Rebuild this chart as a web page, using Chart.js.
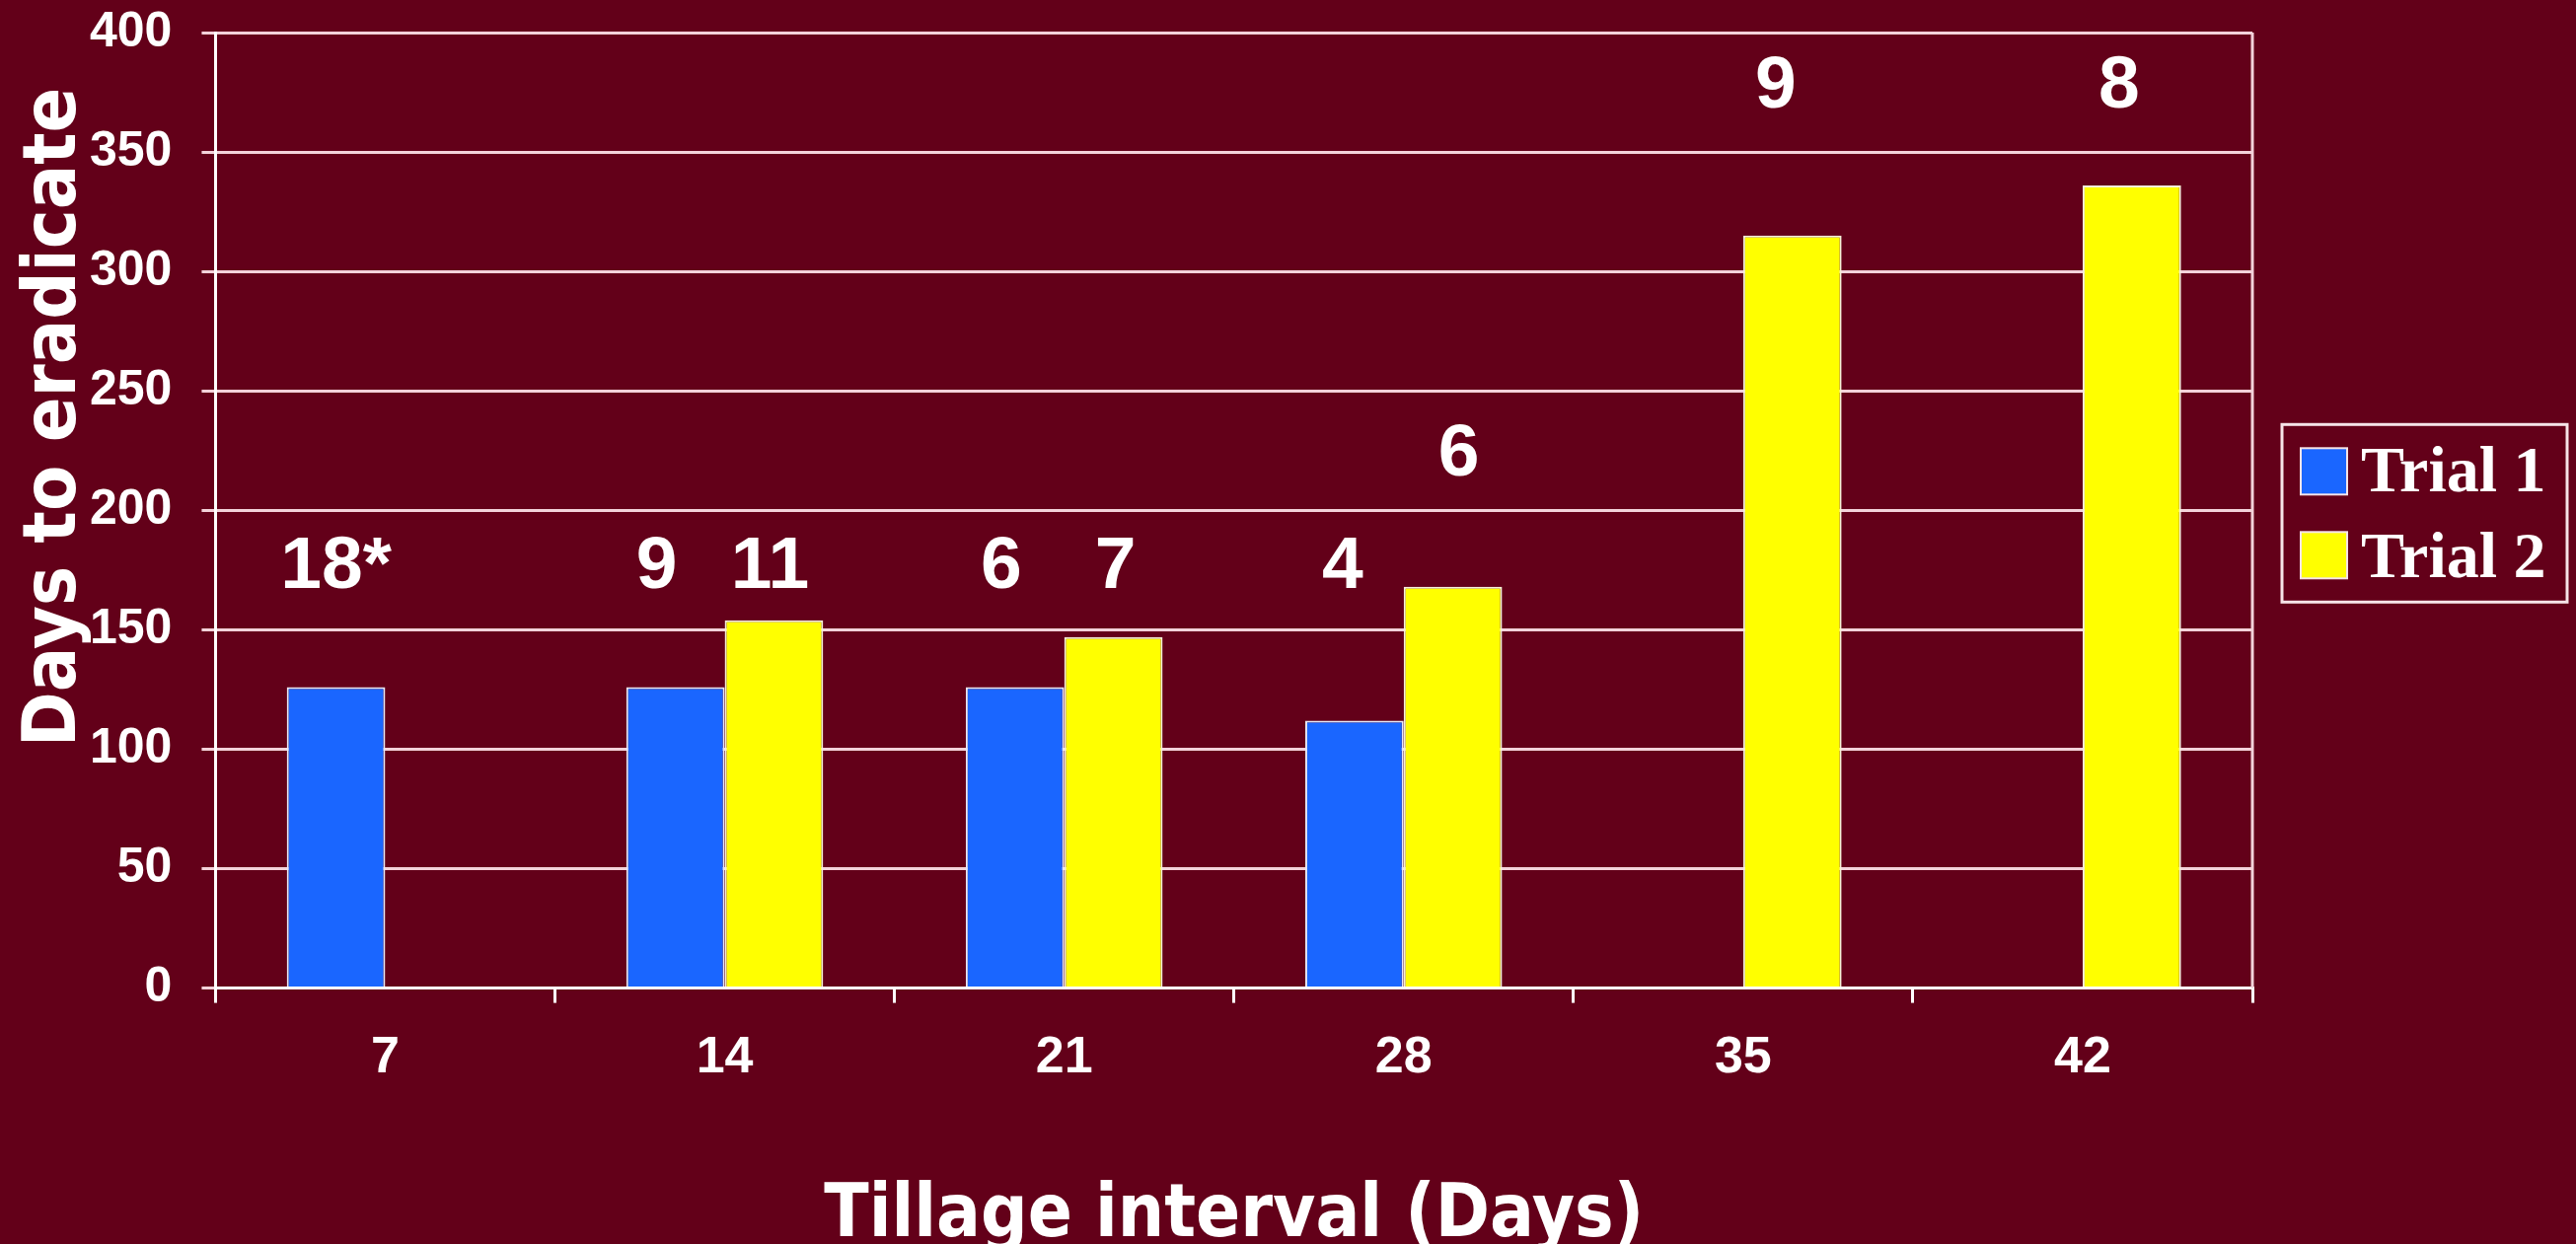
<!DOCTYPE html>
<html>
<head>
<meta charset="utf-8">
<script src="https://cdn.jsdelivr.net/npm/chart.js@4.4.1/dist/chart.umd.min.js"></script>
<style>
  html, body { margin: 0; padding: 0; background: #630019; }
  canvas { display: block; }
</style>
</head>
<body>
<canvas id="eradicate-chart" width="2611" height="1261"></canvas>
<script>
// tillage interval categories and days-to-eradicate per trial
const intervals = ['7', '14', '21', '28', '35', '42'];
const trial1Days = [126, 126, 126, 112, null, null];
const trial2Days = [null, 154, 147, 168, 315, 336];
// numbers written above the bars
const trial1Counts = ['18*', '9', '6', '4', null, null];
const trial2Counts = [null, '11', '7', '6', '9', '8'];

const bg = '#630019';
const gridColor = '#f3d2da';

const backdrop = {
  id: 'backdrop',
  beforeDraw(chart) {
    const ctx = chart.ctx;
    ctx.save();
    ctx.fillStyle = bg;
    ctx.fillRect(0, 0, chart.width, chart.height);
    ctx.restore();
  }
};

const countLabels = {
  id: 'countLabels',
  afterDatasetsDraw(chart, args, opts) {
    const ctx = chart.ctx, y = chart.scales.y;
    ctx.save();
    ctx.font = opts.font;
    ctx.fillStyle = opts.color;
    ctx.textAlign = 'center';
    ctx.textBaseline = 'middle';
    opts.texts.forEach((row, d) => {
      const meta = chart.getDatasetMeta(d);
      row.forEach((t, i) => {
        if (t == null) return;
        const bar = meta.data[i];
        ctx.fillText(t, bar.x + opts.dx[d][i], y.getPixelForValue(opts.levels[d][i]));
      });
    });
    ctx.restore();
  }
};

// right border, rotated y title and the boxed legend
const frame = {
  id: 'frame',
  afterDraw(chart, args, opts) {
    const ctx = chart.ctx, a = chart.chartArea;
    ctx.save();
    ctx.strokeStyle = gridColor;
    ctx.lineWidth = 3;
    ctx.beginPath();
    ctx.moveTo(a.right, a.top);
    ctx.lineTo(a.right, a.bottom);
    ctx.stroke();

    ctx.save();
    ctx.translate(a.left - 142, a.top + 390);
    ctx.rotate(-Math.PI / 2);
    ctx.font = opts.titleFont;
    ctx.fillStyle = '#ffffff';
    ctx.textAlign = 'center';
    ctx.textBaseline = 'alphabetic';
    ctx.fillText(opts.yTitle, 0, 0);
    ctx.restore();

    const left = a.right + 30;
    const top = (a.top + a.bottom) / 2 - 87;
    ctx.strokeStyle = '#f6e4e8';
    ctx.lineWidth = 3;
    ctx.strokeRect(left, top, 289, 180);
    ctx.font = opts.legendFont;
    ctx.textAlign = 'left';
    ctx.textBaseline = 'alphabetic';
    chart.data.datasets.forEach((ds, i) => {
      const my = top + 24 + i * 85;
      ctx.fillStyle = ds.backgroundColor;
      ctx.fillRect(left + 19, my, 47, 47);
      ctx.strokeStyle = '#f6e4e8';
      ctx.lineWidth = 2;
      ctx.strokeRect(left + 19, my, 47, 47);
      ctx.fillStyle = '#ffffff';
      ctx.fillText(ds.label, left + 80, top + 68 + i * 87);
    });
    ctx.restore();
  }
};

new Chart(document.getElementById('eradicate-chart'), {
  type: 'bar',
  data: {
    labels: intervals,
    datasets: [
      { label: 'Trial 1', data: trial1Days, backgroundColor: '#1a66ff', borderColor: '#e8e8f4', borderWidth: 2 },
      { label: 'Trial 2', data: trial2Days, backgroundColor: '#ffff00', borderColor: '#f4f0d8', borderWidth: 2 }
    ]
  },
  options: {
    responsive: false,
    animation: false,
    categoryPercentage: 0.58,
    barPercentage: 1.0,
    layout: { padding: { left: 61, right: 328, top: 33, bottom: 0 } },
    plugins: {
      legend: { display: false },
      tooltip: { enabled: false },
      countLabels: {
        texts: [trial1Counts, trial2Counts],
        levels: [[176, 176, 176, 176, null, null], [null, 176, 176, 223, 377, 377]],
        dx: [[0, -19, -14, -12, 0, 0], [0, -4, 2, 6, -17, -13]],
        font: 'bold 75px "Liberation Sans", Arial, sans-serif',
        color: '#ffffff'
      },
      frame: {
        yTitle: 'Days to eradicate',
        titleFont: 'bold 75px "DejaVu Sans Condensed", "DejaVu Sans", sans-serif',
        legendFont: 'bold 66px "Liberation Serif", "Times New Roman", serif'
      }
    },
    scales: {
      x: {
        grid: { offset: true, drawOnChartArea: false, color: '#ffffff', lineWidth: 3, tickLength: 15 },
        border: { color: '#ffffff', width: 3 },
        ticks: { color: '#ffffff', padding: 25, font: { family: '"Liberation Sans", Arial, sans-serif', size: 52, weight: 'bold' } },
        title: {
          display: true,
          text: 'Tillage interval (Days)',
          color: '#ffffff',
          padding: { top: 68, bottom: -10 },
          font: { family: '"DejaVu Sans Condensed", "DejaVu Sans", sans-serif', size: 74, weight: 'bold', lineHeight: 1 }
        }
      },
      y: {
        min: 0,
        max: 400,
        afterFit(scale) {
          scale.paddingTop = 0;
          scale.paddingBottom = 0;
        },
        grid: { color: gridColor, lineWidth: 3, tickLength: 14 },
        border: { color: '#ffffff', width: 3 },
        ticks: { stepSize: 50, color: '#ffffff', padding: 30, font: { family: '"Liberation Sans", Arial, sans-serif', size: 50, weight: 'bold' } }
      }
    }
  },
  plugins: [backdrop, countLabels, frame]
});
</script>
</body>
</html>
